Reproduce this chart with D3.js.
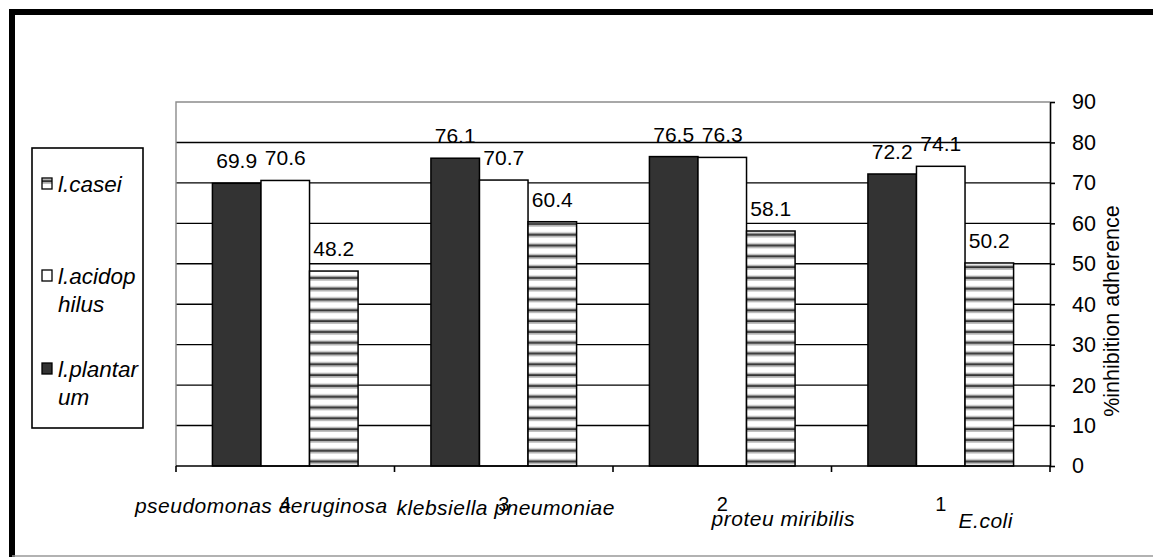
<!DOCTYPE html>
<html>
<head>
<meta charset="utf-8">
<script src="https://cdnjs.cloudflare.com/ajax/libs/d3/7.8.5/d3.min.js"></script>
<style>
  body { margin: 0; background: #fff; }
  svg text { font-family: "Liberation Sans", Arial, sans-serif; fill: #000; }
</style>
</head>
<body>
<div class="chart"></div>
<script>
var categories = ["pseudomonas aeruginosa", "klebsiella pneumoniae", "proteu miribilis", "E.coli"]
  , catNumbers = ["4", "3", "2", "1"]
  , seriesNames = ["l.plantarum", "l.acidophilus", "l.casei"]
  , plantarum = [69.9, 76.1, 76.5, 72.2]
  , acidophilus = [70.6, 70.7, 76.3, 74.1]
  , casei = [48.2, 60.4, 58.1, 50.2]
  , yTicks = [0, 10, 20, 30, 40, 50, 60, 70, 80, 90]
  , legendOrder = ["l.casei", "l.acidophilus", "l.plantarum"]
  , legendLines = [["l.casei"], ["l.acidop", "hilus"], ["l.plantar", "um"]]
  ;

var width = 1153
  , height = 557
  , plot = { left: 176, top: 102, right: 1050, bottom: 466 }
  // odd placement of the category names, as in the original
  , nameShift = [[-24, 513], [2, 515], [61, 526], [45, 528]]
  , legendY = [184, 276, 369]
  ;

var values = [plantarum, acidophilus, casei];
var fills = { "l.plantarum": "#333333", "l.acidophilus": "#ffffff", "l.casei": "url(#stripes)" };

var svg = d3.select(".chart").append("svg")
  .attr("width", width)
  .attr("height", height);

var defs = svg.append("defs");
var pat = defs.append("pattern")
  .attr("id", "stripes")
  .attr("patternUnits", "userSpaceOnUse")
  .attr("width", 10)
  .attr("height", 10.8);
pat.append("rect").attr("width", 10).attr("height", 10.8).attr("fill", "#fff");
pat.append("rect").attr("y", 5.6).attr("width", 10).attr("height", 1.4).attr("fill", "#b0b0b0");
pat.append("rect").attr("y", 7).attr("width", 10).attr("height", 2.2).attr("fill", "#333");
pat.append("rect").attr("y", 9.2).attr("width", 10).attr("height", 1.4).attr("fill", "#b0b0b0");

// outer frame
svg.append("path")
  .attr("d", "M12,560V12H1160")
  .attr("fill", "none")
  .attr("stroke", "#000")
  .attr("stroke-width", 6);
svg.append("line")
  .attr("x1", 12).attr("x2", width)
  .attr("y1", 556).attr("y2", 556)
  .attr("stroke", "#999")
  .attr("stroke-width", 1.5);

var x0 = d3.scaleBand()
  .domain(categories)
  .range([plot.left, plot.right])
  .paddingInner(0)
  .paddingOuter(0);

var bw = x0.bandwidth() / 4.5;
var x1 = d3.scaleBand()
  .domain(seriesNames)
  .range([0.75 * bw, 3.75 * bw]);

var y = d3.scaleLinear()
  .domain([0, 90])
  .range([plot.bottom, plot.top]);

// grid
svg.append("g").selectAll("line")
  .data(yTicks.filter(function(t) { return t > 0 && t < 90; }))
  .enter().append("line")
  .attr("x1", plot.left).attr("x2", plot.right)
  .attr("y1", function(d) { return y(d); })
  .attr("y2", function(d) { return y(d); })
  .attr("stroke", "#000")
  .attr("stroke-width", 1.4);

svg.append("path")
  .attr("d", "M" + plot.left + "," + plot.bottom + "V" + y(90) + "H" + plot.right)
  .attr("fill", "none")
  .attr("stroke", "#8c8c8c")
  .attr("stroke-width", 1.4);

// bars
var groups = svg.append("g").selectAll("g")
  .data(categories)
  .enter().append("g")
  .attr("transform", function(d) { return "translate(" + x0(d) + ",0)"; });

groups.selectAll("rect")
  .data(function(d, i) {
    return seriesNames.map(function(s, j) { return { s: s, v: values[j][i] }; });
  })
  .enter().append("rect")
  .attr("x", function(d) { return x1(d.s); })
  .attr("width", x1.bandwidth())
  .attr("y", function(d) { return y(d.v); })
  .attr("height", function(d) { return y(0) - y(d.v); })
  .attr("fill", function(d) { return fills[d.s]; })
  .attr("stroke", "#000")
  .attr("stroke-width", 1.5);

groups.selectAll("text.val")
  .data(function(d, i) {
    return seriesNames.map(function(s, j) { return { s: s, v: values[j][i] }; });
  })
  .enter().append("text")
  .attr("class", "val")
  .attr("x", function(d) { return x1(d.s) + x1.bandwidth() / 2; })
  .attr("y", function(d) { return y(d.v) - 15; })
  .attr("text-anchor", "middle")
  .style("font-size", "21px")
  .text(function(d) { return d.v.toFixed(1); });

// x axis
var xAxis = svg.append("g")
  .attr("transform", "translate(0," + plot.bottom + ")");
xAxis.append("line")
  .attr("x1", plot.left).attr("x2", plot.right)
  .attr("stroke", "#000").attr("stroke-width", 1.6);
xAxis.selectAll("line.tick")
  .data(categories.concat(["end"]))
  .enter().append("line")
  .attr("class", "tick")
  .attr("x1", function(d, i) { return i < categories.length ? x0(d) : plot.right; })
  .attr("x2", function(d, i) { return i < categories.length ? x0(d) : plot.right; })
  .attr("y2", 6)
  .attr("stroke", "#000").attr("stroke-width", 1.6);

svg.append("g").selectAll("text")
  .data(catNumbers)
  .enter().append("text")
  .attr("x", function(d, i) { return x0(categories[i]) + x0.bandwidth() / 2; })
  .attr("y", 511)
  .attr("text-anchor", "middle")
  .style("font-size", "20px")
  .text(function(d) { return d; });

svg.append("g").selectAll("text")
  .data(categories)
  .enter().append("text")
  .attr("x", function(d, i) { return x0(d) + x0.bandwidth() / 2 + nameShift[i][0]; })
  .attr("y", function(d, i) { return nameShift[i][1]; })
  .attr("text-anchor", "middle")
  .style("font-size", "21px")
  .style("font-style", "italic")
  .style("letter-spacing", "0.5px")
  .text(function(d) { return d; });

// right axis
var yAxis = d3.axisRight(y)
  .tickValues(yTicks)
  .tickSize(5)
  .tickPadding(17)
  .tickSizeOuter(0);

var ya = svg.append("g")
  .attr("transform", "translate(" + plot.right + ",0)")
  .call(yAxis);
ya.select(".domain").attr("stroke", "#000").attr("stroke-width", 1.6);
ya.selectAll(".tick line").attr("stroke", "#000").attr("stroke-width", 1.6);
ya.selectAll(".tick text")
  .attr("fill", "#000")
  .style("font-size", "21.5px")
  .style("font-family", "'Liberation Sans', Arial, sans-serif");

svg.append("text")
  .attr("transform", "translate(1119," + ((plot.top + plot.bottom) / 2 + 27) + ")rotate(-90)")
  .attr("text-anchor", "middle")
  .style("font-size", "21.5px")
  .text("%inhibition adherence");

// legend
var legend = svg.append("g");
legend.append("rect")
  .attr("x", 32).attr("y", 148)
  .attr("width", 111).attr("height", 280)
  .attr("fill", "#fff")
  .attr("stroke", "#000")
  .attr("stroke-width", 1.6);

var items = legend.selectAll("g")
  .data(legendOrder)
  .enter().append("g")
  .attr("transform", function(d, i) { return "translate(0," + legendY[i] + ")"; });

items.append("rect")
  .attr("x", 42).attr("y", -6)
  .attr("width", 10).attr("height", 11)
  .attr("fill", function(d) { return fills[d]; })
  .attr("stroke", "#000")
  .attr("stroke-width", 1.3);

items.append("text")
  .attr("x", 58)
  .attr("y", 8)
  .style("font-size", "22.5px")
  .style("font-style", "italic")
  .selectAll("tspan")
  .data(function(d, i) { return legendLines[i]; })
  .enter().append("tspan")
  .attr("x", 58)
  .attr("dy", function(d, i) { return i === 0 ? 0 : 28; })
  .text(function(d) { return d; });
</script>
</body>
</html>
